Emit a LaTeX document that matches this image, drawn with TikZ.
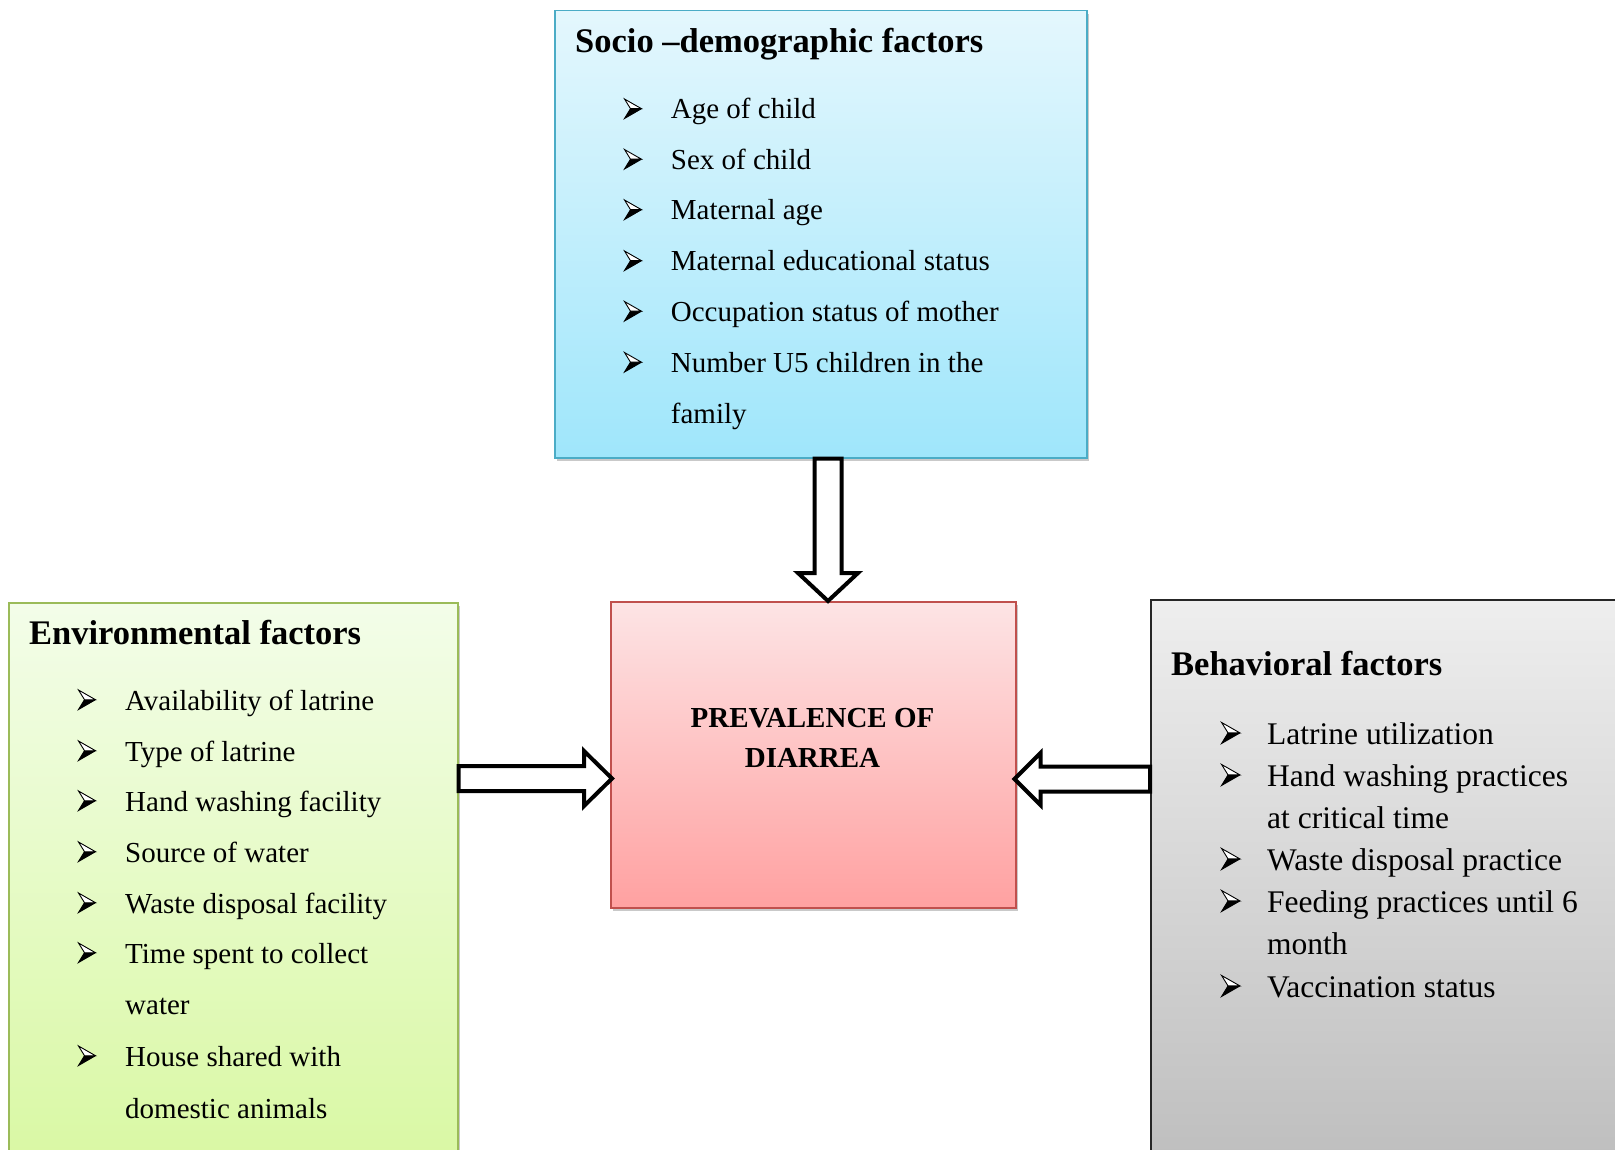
\documentclass[tikz,border=0pt]{standalone}
\usepackage{fontspec}
\setmainfont{Liberation Serif}
\usetikzlibrary{calc,shadows}

\definecolor{cyanTop}{HTML}{E4F7FD}
\definecolor{cyanBot}{HTML}{9FE6FB}
\definecolor{cyanLine}{HTML}{4BACC6}
\definecolor{greenTop}{HTML}{F3FDE9}
\definecolor{greenBot}{HTML}{D8F8A1}
\definecolor{greenLine}{HTML}{9BBB59}
\definecolor{redTop}{HTML}{FDE4E5}
\definecolor{redBot}{HTML}{FFA1A1}
\definecolor{redLine}{HTML}{C0504D}
\definecolor{grayTop}{HTML}{EEEEEE}
\definecolor{grayBot}{HTML}{BCBCBC}

\tikzset{
 panel/.style={draw, line width=1.5pt, anchor=north west, inner sep=0pt, rectangle,
   drop shadow={shadow xshift=2pt, shadow yshift=-3pt, opacity=0.35, fill=black!60}},
 ttl/.style={anchor=base west, inner sep=0pt, font=\bfseries\fontsize{34.5}{40}\selectfont},
 item/.style={anchor=base west, inner sep=0pt, font=\fontsize{29}{35}\selectfont},
 itemb/.style={anchor=base west, inner sep=0pt, font=\fontsize{31.5}{38}\selectfont},
 ctr/.style={anchor=base, inner sep=0pt, font=\bfseries\fontsize{29}{35}\selectfont},
 blockarrow/.style={draw=black, line width=4pt, fill=white, line join=miter},
 arrbul/.pic={
   \fill[black] (6.5,-9.8) -- (17.5,-9.8) -- (0.5,0) -- cycle;
   \draw[black, line width=0.9pt, fill=white, line join=miter]
        (0.5,-19.5) -- (17.5,-9.8) -- (6.5,-9.8) -- cycle;
   \draw[black, line width=0.9pt, line join=miter] (6.5,-9.8) -- (0.5,0) -- (17.5,-9.8);
 },
}

\begin{document}
\begin{tikzpicture}[x=1pt,y=-1pt]
\useasboundingbox (0,0) rectangle (1615,1150);
\clip (0,0) rectangle (1615,1150);
\fill[white] (0,0) rectangle (1615,1150);

% panels
\node[panel, draw=cyanLine, top color=cyanTop, bottom color=cyanBot,
      minimum width=532pt, minimum height=447pt] (socio) at (554,10) {};
\node[panel, draw=greenLine, top color=greenTop, bottom color=greenBot,
      minimum width=449pt, minimum height=580pt] (env) at (8,602) {};
\node[panel, draw=black!85, top color=grayTop, bottom color=grayBot,
      minimum width=490pt, minimum height=590pt] (beh) at (1150,599) {};
\node[panel, draw=redLine, top color=redTop, bottom color=redBot,
      minimum width=405pt, minimum height=306pt] (prev) at (610,601) {};

% socio-demographic text
\node[ttl] (st) at (575,53) {Socio –demographic factors};
\foreach \yy in {119,169.5,220,271,321.5,372.5} \pic at (624,\yy-0.5) {arrbul};
\node[item] (s1) at (670.7,119) {Age of child};
\node[item] (s2) at (670.7,169.5) {Sex of child};
\node[item] (s3) at (670.7,220) {Maternal age};
\node[item] (s4) at (670.7,271) {Maternal educational status};
\node[item] (s5) at (670.7,321.5) {Occupation status of mother};
\node[item] (s6) at (670.7,372.5) {Number U5 children in the};
\node[item] (s7) at (670.7,423) {family};

% environmental text
\node[ttl] (et) at (29,644) {Environmental factors};
\foreach \yy in {710,761,811,862,913,963,1066} \pic at (78,\yy-0.5) {arrbul};
\node[item] (e1) at (125,710) {Availability of latrine};
\node[item] (e2) at (125,761) {Type of latrine};
\node[item] (e3) at (125,811) {Hand washing facility};
\node[item] (e4) at (125,862) {Source of water};
\node[item] (e5) at (125,913) {Waste disposal facility};
\node[item] (e6) at (125,963) {Time spent to collect};
\node[item] (e7) at (125,1014) {water};
\node[item] (e8) at (125,1066) {House shared with};
\node[item] (e9) at (125,1118) {domestic animals};

% behavioral text
\node[ttl] (bt) at (1171,675) {Behavioral factors};
\foreach \yy in {744,786,870,912,997} \pic[scale=1.08] at (1221,\yy-0.5) {arrbul};
\node[itemb] (b1) at (1267,744) {Latrine utilization};
\node[itemb] (b2) at (1267,786) {Hand washing practices};
\node[itemb] (b3) at (1267,828) {at critical time};
\node[itemb] (b4) at (1267,870) {Waste disposal practice};
\node[itemb] (b5) at (1267,912) {Feeding practices until 6};
\node[itemb] (b6) at (1267,954) {month};
\node[itemb] (b7) at (1267,997) {Vaccination status};

% centre text
\node[ctr] (p1) at (812.5,727) {PREVALENCE OF};
\node[ctr] (p2) at (812.5,767) {DIARREA};

% block arrows
\coordinate (dx) at (828,0);
\coordinate (ds) at (dx |- socio.south);
\coordinate (dt) at (dx |- prev.north);
\draw[blockarrow] ($(ds)+(-13.5,0)$) -- ($(dt)+(-13.5,-28)$) -- ($(dt)+(-30,-28)$) -- (dt)
   -- ($(dt)+(30,-28)$) -- ($(dt)+(13.5,-28)$) -- ($(ds)+(13.5,0)$) -- cycle;

\coordinate (ly) at (0,778.5);
\coordinate (ls) at (env.east |- ly);
\coordinate (lt) at ($(prev.west |- ly)+(2,0)$);
\draw[blockarrow] ($(ls)+(0,-12.5)$) -- ($(lt)+(-28,-12.5)$) -- ($(lt)+(-28,-27.5)$) -- (lt)
   -- ($(lt)+(-28,27.5)$) -- ($(lt)+(-28,12.5)$) -- ($(ls)+(0,12.5)$) -- cycle;

\coordinate (ry) at (0,779);
\coordinate (rs) at (beh.west |- ry);
\coordinate (rt) at ($(prev.east |- ry)+(-2,0)$);
\draw[blockarrow] ($(rs)+(0,-12.5)$) -- ($(rt)+(26,-12.5)$) -- ($(rt)+(26,-26)$) -- (rt)
   -- ($(rt)+(26,26)$) -- ($(rt)+(26,12.5)$) -- ($(rs)+(0,12.5)$) -- cycle;
\end{tikzpicture}
\end{document}
